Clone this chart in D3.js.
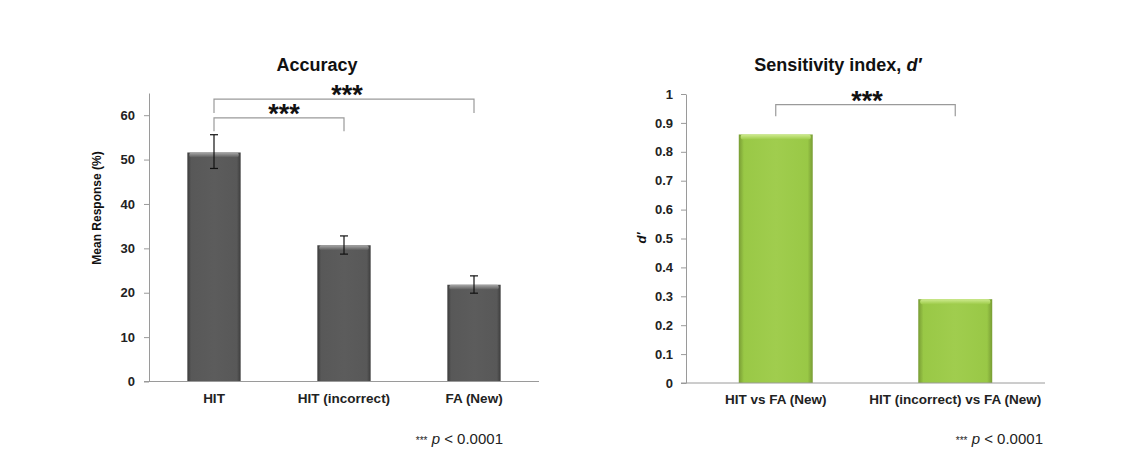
<!DOCTYPE html>
<html>
<head>
<meta charset="utf-8">
<script src="https://cdn.jsdelivr.net/npm/d3@7"></script>
<style>
  html, body { margin: 0; padding: 0; background: #fff; }
  svg { display: block; font-family: "Liberation Sans", Arial, sans-serif; }
</style>
</head>
<body>
<svg id="chart" width="1134" height="460"></svg>
<script>
// ---- Data ----
const accCategories = ["HIT", "HIT (incorrect)", "FA (New)"];
const accValues = [51.6, 30.7, 21.8];
const accErrLow = [48.0, 28.7, 19.9];
const accErrHigh = [55.6, 32.8, 23.8];
const accTicks = [0, 10, 20, 30, 40, 50, 60];

const dCategories = ["HIT vs FA (New)", "HIT (incorrect) vs FA (New)"];
const dValues = [0.86, 0.29];
const dTicks = [0, 0.1, 0.2, 0.3, 0.4, 0.5, 0.6, 0.7, 0.8, 0.9, 1];

const svg = d3.select("#chart");
const defs = svg.append("defs");

function makeGrad(id, stops, vertical) {
  const g = defs.append("linearGradient").attr("id", id)
    .attr("x1", 0).attr("y1", 0)
    .attr("x2", vertical ? 0 : 1).attr("y2", vertical ? 1 : 0);
  stops.forEach(s => g.append("stop").attr("offset", s[0]).attr("stop-color", s[1]));
}
makeGrad("greyBody", [["0%", "#3c3c3c"], ["7%", "#585858"], ["50%", "#5c5c5c"], ["93%", "#585858"], ["100%", "#3c3c3c"]], false);
makeGrad("greyTop", [["0%", "#a8a8a8"], ["100%", "#5a5a5a"]], true);
makeGrad("greenBody", [["0%", "#789c34"], ["7%", "#99c846"], ["50%", "#a0cd4e"], ["93%", "#99c846"], ["100%", "#789c34"]], false);
makeGrad("greenTop", [["0%", "#cfeb90"], ["100%", "#9ecc4a"]], true);

const axisColor = "#9a9a9a";

function styleAxis(g) {
  g.select(".domain").attr("stroke", axisColor);
  g.selectAll(".tick line").attr("stroke", axisColor);
  g.selectAll(".tick text").attr("fill", "#222").attr("font-size", 13).attr("font-weight", "bold");
}

function drawBars(g, cats, vals, x, y, bodyGrad, topGrad) {
  const bars = g.selectAll("g.bar").data(cats).join("g").attr("class", "bar");
  bars.append("rect")
    .attr("x", d => x(d)).attr("width", x.bandwidth())
    .attr("y", (d, i) => y(vals[i]))
    .attr("height", (d, i) => y(0) - y(vals[i]))
    .attr("fill", `url(#${bodyGrad})`);
  bars.append("rect")
    .attr("x", d => x(d) + 2).attr("width", x.bandwidth() - 4)
    .attr("y", (d, i) => y(vals[i]))
    .attr("height", 5)
    .attr("rx", 2)
    .attr("fill", `url(#${topGrad})`);
}

function bracket(g, x, y, a, b, level, dropA, dropB, starsX) {
  const xa = x(a) + x.bandwidth() / 2, xb = x(b) + x.bandwidth() / 2;
  const yl = y(level);
  g.append("path")
    .attr("d", `M${xa},${y(dropA)}V${yl}H${xb}V${y(dropB)}`)
    .attr("fill", "none").attr("stroke", axisColor).attr("stroke-width", 1.2);
  g.append("text")
    .attr("x", starsX === undefined ? (xa + xb) / 2 : starsX)
    .attr("y", yl + 5)
    .attr("text-anchor", "middle")
    .attr("font-size", 27).attr("font-weight", "bold").attr("fill", "#111")
    .text("***");
}

function footnote(x, y) {
  const t = svg.append("text").attr("x", x).attr("y", y).attr("text-anchor", "end").attr("fill", "#222");
  t.append("tspan").attr("font-size", 10).text("***");
  t.append("tspan").attr("font-size", 15).attr("font-style", "italic").text(" p");
  t.append("tspan").attr("font-size", 15).text(" < 0.0001");
}

// ---- Left chart: Accuracy ----
{
  const x = d3.scaleBand().domain(accCategories).range([149, 539]).paddingInner(0.59).paddingOuter(0.295);
  const y = d3.scaleLinear().domain([0, 65]).range([381.5, 93]);
  const g = svg.append("g");

  const ya = g.append("g").attr("transform", "translate(149,0)")
    .call(d3.axisLeft(y).tickValues(accTicks).tickSize(5).tickPadding(9).tickSizeOuter(0));
  styleAxis(ya);

  drawBars(g, accCategories, accValues, x, y, "greyBody", "greyTop");

  g.append("line").attr("x1", 144).attr("x2", 539).attr("y1", y(0)).attr("y2", y(0)).attr("stroke", axisColor);

  const eb = g.selectAll("g.err").data(accCategories).join("g").attr("class", "err");
  eb.append("line")
    .attr("x1", d => x(d) + x.bandwidth() / 2).attr("x2", d => x(d) + x.bandwidth() / 2)
    .attr("y1", (d, i) => y(accErrLow[i])).attr("y2", (d, i) => y(accErrHigh[i]))
    .attr("stroke", "#111").attr("stroke-width", 1.2);
  [accErrLow, accErrHigh].forEach(arr => {
    eb.append("line")
      .attr("x1", d => x(d) + x.bandwidth() / 2 - 4).attr("x2", d => x(d) + x.bandwidth() / 2 + 4)
      .attr("y1", (d, i) => y(arr[i])).attr("y2", (d, i) => y(arr[i]))
      .attr("stroke", "#111").attr("stroke-width", 1.2);
  });

  g.selectAll("text.xl").data(accCategories).join("text").attr("class", "xl")
    .attr("x", d => x(d) + x.bandwidth() / 2).attr("y", 403)
    .attr("text-anchor", "middle").attr("font-size", 13.5).attr("font-weight", "bold").attr("fill", "#222")
    .text(d => d);

  g.append("text").attr("x", 317).attr("y", 71).attr("text-anchor", "middle")
    .attr("font-size", 18).attr("font-weight", "bold").attr("fill", "#111").text("Accuracy");

  g.append("text").attr("transform", "translate(101,208) rotate(-90)").attr("text-anchor", "middle")
    .attr("font-size", 12).attr("font-weight", "bold").attr("fill", "#111").text("Mean Response (%)");

  bracket(g, x, y, "HIT", "FA (New)", 63.6, 60.5, 60.5, 347);
  bracket(g, x, y, "HIT", "HIT (incorrect)", 59.4, 56.4, 56.4, 284);

  footnote(503, 444);
}

// ---- Right chart: Sensitivity index ----
{
  const x = d3.scaleBand().domain(dCategories).range([686, 1045]).paddingInner(0.588).paddingOuter(0.294);
  const y = d3.scaleLinear().domain([0, 1]).range([383, 94]);
  const g = svg.append("g");

  const ya = g.append("g").attr("transform", "translate(686,0)")
    .call(d3.axisLeft(y).tickValues(dTicks).tickFormat(d3.format("~g")).tickSize(5).tickPadding(8).tickSizeOuter(0));
  styleAxis(ya);

  drawBars(g, dCategories, dValues, x, y, "greenBody", "greenTop");

  g.append("line").attr("x1", 681).attr("x2", 1045).attr("y1", y(0)).attr("y2", y(0)).attr("stroke", axisColor);

  g.selectAll("text.xl").data(dCategories).join("text").attr("class", "xl")
    .attr("x", d => x(d) + x.bandwidth() / 2).attr("y", 404)
    .attr("text-anchor", "middle").attr("font-size", 13.5).attr("font-weight", "bold").attr("fill", "#222")
    .text(d => d);

  const t = g.append("text").attr("x", 838).attr("y", 71).attr("text-anchor", "middle")
    .attr("font-size", 18).attr("font-weight", "bold").attr("fill", "#111");
  t.append("tspan").text("Sensitivity index, ");
  t.append("tspan").attr("font-style", "italic").text("d\u2032");

  g.append("text").attr("transform", "translate(646,238) rotate(-90)").attr("text-anchor", "middle")
    .attr("font-size", 13).attr("font-weight", "bold").attr("font-style", "italic").attr("fill", "#111").text("d\u2032");

  bracket(g, x, y, dCategories[0], dCategories[1], 0.963, 0.923, 0.923, 867);

  footnote(1043, 444);
}
</script>
</body>
</html>
